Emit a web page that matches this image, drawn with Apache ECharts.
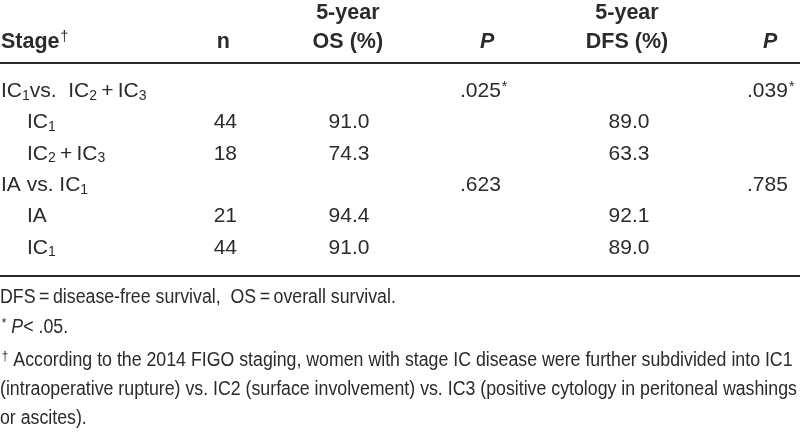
<!DOCTYPE html>
<html><head><meta charset="utf-8">
<script src="https://cdn.jsdelivr.net/npm/echarts@6/dist/echarts.min.js"></script>
<style>html,body{margin:0;padding:0;background:#fff}#c{width:800px;height:433px}</style>
</head><body><div id="c"></div>
<script>
// ---------- data ----------
const columns = ['Stage', 'n', 'OS', 'P_OS', 'DFS', 'P_DFS'];
const headerLine1 = ['', '', '5-year', '', '5-year', ''];
const headerLine2 = ['Stage^†', 'n', 'OS (%)', 'P', 'DFS (%)', 'P'];
const stageLabels = ['IC_1vs.  IC_2\u2009+\u2009IC_3', 'IC_1', 'IC_2\u2009+\u2009IC_3', 'IA vs. IC_1', 'IA', 'IC_1'];
const stageIndent = [false, true, true, false, true, true];
const nValues = [null, 44, 18, null, 21, 44];
const osValues = [null, 91.0, 74.3, null, 94.4, 91.0];
const osP = ['.025^*', null, null, '.623', null, null];
const dfsValues = [null, 89.0, 63.3, null, 92.1, 89.0];
const dfsP = ['.039^*', null, null, '.785', null, null];
const footnotes = [
  ['DFS\u2009=\u2009disease-free survival,  OS\u2009=\u2009overall survival.'],
  ['^* ~P~< .05.'],
  ['^† According to the 2014 FIGO staging, women with stage IC disease were further subdivided into IC1',
   '(intraoperative rupture) vs. IC2 (surface involvement) vs. IC3 (positive cytology in peritoneal washings',
   'or ascites).']
];

// ---------- style / layout ----------
const FONT = '"Liberation Sans", Arial, sans-serif';
const INK = '#2b2b2b';
const BODY_SIZE = 21, HEAD_SIZE = 21.5, NOTE_SIZE = 19.5, NOTE_SCALE_X = 0.91;
const bodyCol = [
  {align: 'left', dx: -65.7}, {align: 'right', dx: 37}, {align: 'center', dx: 15.7},
  {align: 'left', dx: -6.7}, {align: 'center', dx: 29}, {align: 'left', dx: 13.7}
];
const headCol = [
  {align: 'left', dx: -65.7}, {align: 'right', dx: 30}, {align: 'center', dx: 14.5},
  {align: 'left', dx: 13.3}, {align: 'center', dx: 27}, {align: 'left', dx: 29.7}
];
const INDENT = 26;
const HEAD_OFFSETS = [50, 21]; // distance above top rule for header lines 1 & 2
const GRID_TOP = 63, GRID_BOTTOM = 157;

function toRich(s) {
  return s.replace(/_(\d)/g, '{sub|$1}').replace(/\^(.)/g, '{sup|$1}').replace(/~([^~]+)~/g, '{i|$1}');
}
const richBody = {
  sub: {fontSize: 14, fontFamily: FONT, fill: INK, padding: [9, 0, 0, 0]},
  sup: {fontSize: 14, fontFamily: FONT, fill: INK, padding: [0, 0, 8, 1]}
};
const richHead = {
  sup: {fontSize: 14, fontFamily: FONT, fill: INK, fontWeight: 'normal', padding: [0, 0, 10, 1]}
};

// ---------- build cells ----------
const cells = [];
headerLine1.forEach((t, c) => { if (t) cells.push({col: c, row: -2, text: t, head: true}); });
headerLine2.forEach((t, c) => { if (t) cells.push({col: c, row: -1, text: t, head: true, italic: t === 'P'}); });
stageLabels.forEach((t, r) => {
  cells.push({col: 0, row: r, text: t, indent: stageIndent[r]});
  if (nValues[r] != null) cells.push({col: 1, row: r, text: String(nValues[r])});
  if (osValues[r] != null) cells.push({col: 2, row: r, text: osValues[r].toFixed(1)});
  if (osP[r] != null) cells.push({col: 3, row: r, text: osP[r]});
  if (dfsValues[r] != null) cells.push({col: 4, row: r, text: dfsValues[r].toFixed(1)});
  if (dfsP[r] != null) cells.push({col: 5, row: r, text: dfsP[r]});
});

const chart = echarts.init(document.getElementById('c'), null, {renderer: 'canvas'});
const axisBase = {
  type: 'category', data: columns, boundaryGap: true,
  axisLine: {show: true, onZero: false, lineStyle: {color: INK, width: 2}},
  axisTick: {show: false}, axisLabel: {show: false}, splitLine: {show: false}
};
chart.setOption({
  animation: false,
  backgroundColor: '#ffffff',
  grid: {left: 0, right: 0, top: GRID_TOP, bottom: GRID_BOTTOM},
  xAxis: [Object.assign({position: 'top'}, axisBase), Object.assign({position: 'bottom'}, axisBase)],
  yAxis: {type: 'value', inverse: true, min: -0.9, max: 5.9, show: false},
  series: [{
    type: 'custom',
    coordinateSystem: 'cartesian2d',
    clip: false,
    data: cells.map(c => [columns[c.col], Math.max(c.row, 0)]),
    renderItem(params, api) {
      const cell = cells[params.dataIndex];
      const cx = api.coord([api.value(0), 0])[0];
      const spec = cell.head ? headCol[cell.col] : bodyCol[cell.col];
      let y;
      if (cell.row < 0) y = params.coordSys.y - HEAD_OFFSETS[cell.row + 2];
      else y = api.coord([api.value(0), cell.row])[1];
      const x = cx + spec.dx + (cell.indent ? INDENT : 0);
      return {
        type: 'text', x: x, y: y,
        style: {
          text: toRich(cell.text),
          fill: INK,
          fontFamily: FONT,
          fontSize: cell.head ? HEAD_SIZE : BODY_SIZE,
          fontWeight: cell.head ? 'bold' : 'normal',
          fontStyle: cell.italic ? 'italic' : 'normal',
          align: spec.align,
          verticalAlign: 'middle',
          rich: cell.head ? richHead : richBody
        }
      };
    }
  }],
  graphic: (function () {
    const els = [];
    const noteY = [298, 328, 361];
    const rich = {
      sup: {fontSize: 13, fontFamily: FONT, fill: INK, padding: [0, 0, 10, 2]},
      i: {fontSize: NOTE_SIZE, fontFamily: FONT, fill: INK, fontStyle: 'italic'}
    };
    footnotes.forEach((lines, k) => {
      lines.forEach((ln, j) => {
        els.push({
          type: 'text', x: 0, y: noteY[k] + j * 29, scaleX: NOTE_SCALE_X,
          style: {text: toRich(ln), fill: INK, fontFamily: FONT, fontSize: NOTE_SIZE,
                  verticalAlign: 'middle', rich: rich}
        });
      });
    });
    return els;
  })()
});
</script>
</body></html>
